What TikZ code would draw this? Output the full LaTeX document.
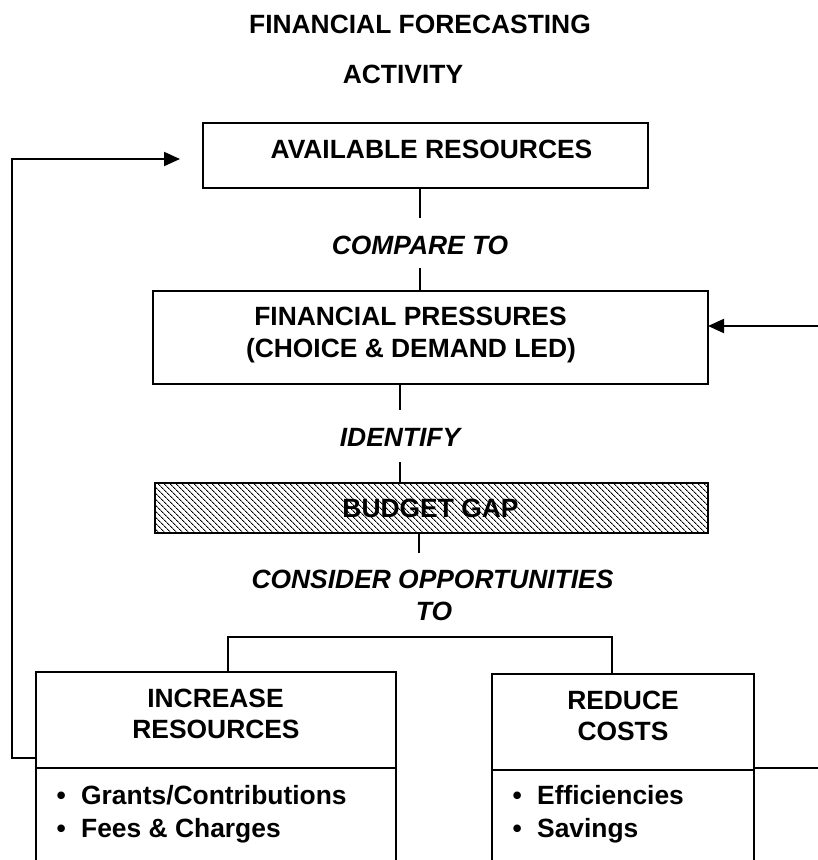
\documentclass[tikz,border=0pt]{standalone}
\usepackage{fontspec}
\setmainfont{Liberation Sans}
\usetikzlibrary{arrows.meta,patterns.meta}
\newcommand\bulitem{\makebox[24.6pt][l]{•}}
\begin{document}
\begin{tikzpicture}[x=1pt,y=-1pt,
  box/.style={draw,line width=2pt,inner sep=0pt,outer sep=0pt,anchor=north west},
  txt/.style={inner sep=0pt,anchor=base,font=\fontsize{26.4}{31}\selectfont\bfseries},
  lbl/.style={inner ysep=0pt,inner xsep=2pt,anchor=base,font=\fontsize{26.4}{31}\selectfont\bfseries\itshape},
  link/.style={line width=2pt},
  tip/.style={-{Triangle[length=16pt,width=14pt]}}
]
\useasboundingbox (0,0) rectangle (818,860);
\clip (0,0) rectangle (818,860);

% title
\node[txt] (t1) at (420,33) {FINANCIAL FORECASTING};
\node[txt] (t2) at (403,83) {ACTIVITY};

% available resources
\node[box,minimum width=445pt,minimum height=65pt] (ar) at (203,123) {};
\node[txt] (arT) at (431.5,158) {AVAILABLE RESOURCES};

\node[lbl,text height=36pt,text depth=14pt] (cmp) at (420,254) {COMPARE TO};

% financial pressures
\node[box,minimum width=555pt,minimum height=93pt] (fp) at (153,291) {};
\node[txt] (fp1) at (410.5,325) {FINANCIAL PRESSURES};
\node[txt] (fp2) at (411,357) {(CHOICE \& DEMAND LED)};

\draw[link] (ar.south -| cmp.north) -- (cmp.north);
\draw[link] (cmp.south) -- (cmp.south |- fp.north);

\coordinate (inR) at (818,326);
\draw[link,tip] (inR) -- (inR -| fp.east);

\node[lbl,text height=36pt,text depth=16pt] (idf) at (400,446) {IDENTIFY};

% budget gap
\node[box,minimum width=553pt,minimum height=50pt,
      pattern={Lines[angle=-45,distance=4pt,line width=1pt]}] (gap) at (155,483) {};
\node[txt] (gapT) at (430.5,517) {BUDGET GAP};

\draw[link] (fp.south -| idf.north) -- (idf.north);
\draw[link] (idf.south) -- (idf.south |- gap.north);

\coordinate (oppTop) at (419,553);
\draw[link] (gap.south -| oppTop) -- (oppTop);
\node[lbl] (opp1) at (432.5,588) {CONSIDER OPPORTUNITIES};
\node[lbl] (opp2) at (434,620) {TO};

% option boxes
\node[box,minimum width=360pt,minimum height=96pt] (inc) at (36,672) {};
\node[box,minimum width=360pt,minimum height=110pt] (incL) at (36,768) {};
\node[box,minimum width=262pt,minimum height=96pt] (red) at (492,674) {};
\node[box,minimum width=262pt,minimum height=110pt] (redL) at (492,770) {};

\node[txt] (incT1) at (215.5,707) {INCREASE};
\node[txt] (incT2) at (216,738) {RESOURCES};
\node[txt] (redT1) at (623,709) {REDUCE};
\node[txt] (redT2) at (623,740) {COSTS};

\node[txt,anchor=base west] (i1) at (56.4,804) {\bulitem Grants/Contributions};
\node[txt,anchor=base west] (i2) at (56.4,837) {\bulitem Fees \& Charges};
\node[txt,anchor=base west] (r1) at (512.4,804) {\bulitem Efficiencies};
\node[txt,anchor=base west] (r2) at (512.4,837) {\bulitem Savings};

% branch bracket
\coordinate (bl) at (228,637);
\coordinate (br) at (612,637);
\draw[link] (bl |- inc.north) -- (bl) -- (br) -- (br |- red.north);

% feedback loop
\coordinate (fbLow) at (12,758);
\coordinate (fbTop) at (12,159);
\coordinate (fbEnd) at (180,159);
\draw[link,tip] (fbLow -| inc.west) -- (fbLow) -- (fbTop) -- (fbEnd);

% outgoing line
\coordinate (outR) at (818,768);
\draw[link] (outR -| redL.east) -- (outR);
\end{tikzpicture}
\end{document}
